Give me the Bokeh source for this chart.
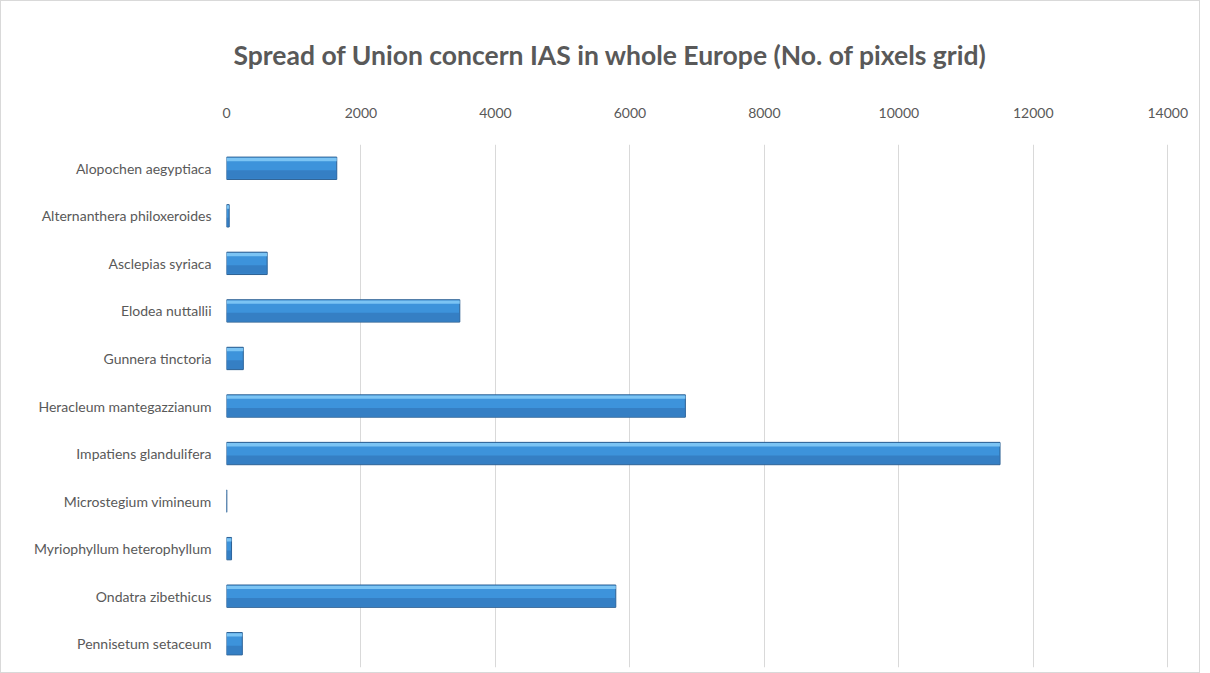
from bokeh.plotting import figure
from bokeh.models import FactorRange, Range1d, FixedTicker, ColumnDataSource
from bokeh.transform import dodge
from bokeh.embed import file_html
from bokeh.resources import INLINE

species = [
    "Alopochen aegyptiaca",
    "Alternanthera philoxeroides",
    "Asclepias syriaca",
    "Elodea nuttallii",
    "Gunnera tinctoria",
    "Heracleum mantegazzianum",
    "Impatiens glandulifera",
    "Microstegium vimineum",
    "Myriophyllum heterophyllum",
    "Ondatra zibethicus",
    "Pennisetum setaceum",
]
pixels = [1640, 40, 605, 3470, 250, 6825, 11505, 5, 75, 5790, 235]
ticks = [0, 2000, 4000, 6000, 8000, 10000, 12000, 14000]

src = ColumnDataSource(dict(species=species, pixels=pixels))

yr = FactorRange(*reversed(species))
p = figure(
    width=1200, height=673,
    y_range=yr,
    x_range=Range1d(0, 14100),
    x_axis_location="above",
    output_backend="svg", toolbar_location=None,
    title="Spread of Union concern IAS in whole Europe (No. of pixels grid)",
    min_border_left=225, min_border_right=27, min_border_bottom=7,
    min_border_top=143,
)
p.styles = {"border": "1px solid #d9d9d9"}
p.title.align = "left"
p.title.vertical_align = "top"
p.title.text_font = "Lato"
p.title.text_font_style = "bold"
p.title.text_font_size = "26.5px"
p.title.text_color = "#595959"
p.title.standoff = 64
p.title.offset = 7

# bar body
p.hbar(y="species", right="pixels", left=0, height=0.47, source=src,
       fill_color="#3d93db", line_color="#2c5f92", line_width=1)
# darker lower part
p.hbar(y=dodge("species", -0.13, range=yr), right="pixels", left=0, height=0.18,
       source=src, fill_color="#3174b8", line_color=None, fill_alpha=0.65)
# light top highlight
p.hbar(y=dodge("species", 0.185, range=yr), right="pixels", left=0, height=0.07,
       source=src, fill_color="#86ccf8", line_color=None, fill_alpha=0.85)

p.xaxis.ticker = FixedTicker(ticks=ticks)
p.xaxis.axis_line_color = None
p.xaxis.major_tick_line_color = None
p.xaxis.minor_tick_line_color = None
p.xaxis.major_label_text_font = "Lato"
p.xaxis.major_label_text_font_size = "14px"
p.xaxis.major_label_text_color = "#595959"
p.xaxis.major_label_standoff = 21

p.yaxis.axis_line_color = None
p.yaxis.major_tick_line_color = None
p.yaxis.major_label_text_font = "Lato"
p.yaxis.major_label_text_font_size = "14px"
p.yaxis.major_label_text_color = "#595959"
p.yaxis.major_label_standoff = 9

p.xgrid.ticker = FixedTicker(ticks=ticks)
p.xgrid.grid_line_color = "#d9d9d9"
p.ygrid.grid_line_color = None
p.outline_line_color = None

open("out.html", "w").write(file_html(p, INLINE))
